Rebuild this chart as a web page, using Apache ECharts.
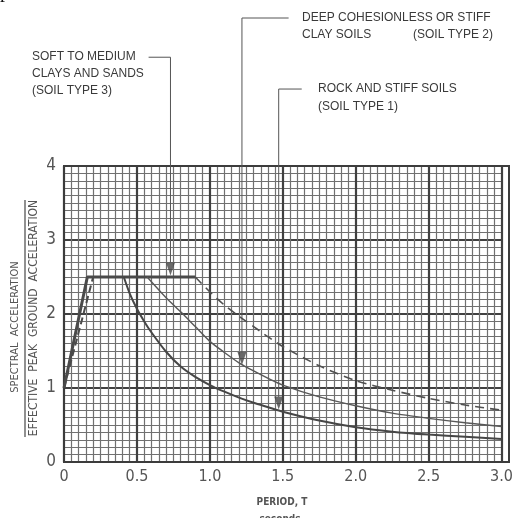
<!DOCTYPE html>
<html>
<head>
<meta charset="utf-8">
<script src="https://cdn.jsdelivr.net/npm/echarts@6/dist/echarts.min.js"></script>
<style>
  html, body { margin: 0; padding: 0; background: #fff; }
  #chart { width: 516px; height: 518px; }
</style>
</head>
<body>
<div id="chart"></div>
<script>
// Normalised response spectra: Sa / effective peak ground acceleration vs period T (s)

// rising branch and common 2.5 plateau
const rampPeriod = [0, 0.16, 0.9];
const rampRatio = [1.0, 2.5, 2.5];
const rampSoftPeriod = [0, 0.2];
const rampSoftRatio = [1.0, 2.5];

// Soil type 1 - rock and stiff soils
const rockPeriod = [0.41, 0.45, 0.5, 0.55, 0.6, 0.7, 0.8, 0.9, 1.0, 1.1, 1.2, 1.3, 1.4, 1.5, 1.75, 2.0, 2.25, 2.5, 2.75, 3.0];
const rockRatio  = [2.5, 2.28, 2.07, 1.9, 1.75, 1.49, 1.29, 1.15, 1.04, 0.95, 0.87, 0.80, 0.74, 0.68, 0.56, 0.47, 0.41, 0.37, 0.34, 0.31];

// Soil type 2 - deep cohesionless or stiff clay soils
const stiffPeriod = [0.57, 0.7, 0.8, 0.9, 1.0, 1.1, 1.2, 1.3, 1.4, 1.5, 1.75, 2.0, 2.25, 2.5, 2.75, 3.0];
const stiffRatio  = [2.5, 2.22, 2.03, 1.83, 1.63, 1.48, 1.34, 1.23, 1.13, 1.04, 0.88, 0.76, 0.66, 0.59, 0.53, 0.48];

// Soil type 3 - soft to medium clays and sands
const softPeriod = [0.9, 1.0, 1.1, 1.2, 1.3, 1.4, 1.5, 1.75, 2.0, 2.25, 2.5, 2.75, 3.0];
const softRatio  = [2.5, 2.3, 2.12, 1.97, 1.83, 1.69, 1.56, 1.30, 1.10, 0.97, 0.86, 0.77, 0.70];

// arrow tips of the soil-type callouts [period, ratio]
const calloutTips = [[0.73, 2.52], [1.22, 1.31], [1.472, 0.71]];

// tick labels
const xTickLabels = ['0', '0.5', '1.0', '1.5', '2.0', '2.5', '3.0'];
const yTickLabels = ['0', '1', '2', '3', '4'];

const zip = (a, b) => a.map((v, i) => [v, b[i]]);

// leader elbows for the callouts (above the plot, in axis units)
const leaders = [
  [[0.58, 5.47], [0.73, 5.47], [0.73, 2.70]],
  [[1.54, 6.0], [1.22, 6.0], [1.22, 1.48]],
  [[1.63, 5.04], [1.472, 5.04], [1.472, 0.88]]
];

const chart = echarts.init(document.getElementById('chart'), null, { renderer: 'canvas' });

const leaderSeries = leaders.map(pts => ({
  type: 'line', data: pts, clip: false, symbol: 'none', silent: true,
  lineStyle: { color: '#555', width: 1 }, z: 4
}));

const curveLine = (name, period, ratio, style) => ({
  name, type: 'line', data: zip(period, ratio), symbol: 'none',
  smooth: 0.25, lineStyle: style, z: 5
});

chart.setOption({
  animation: false,
  backgroundColor: '#fff',
  grid: { left: 64, top: 166, width: 445, height: 296, show: false },
  xAxis: {
    type: 'value', min: 0, max: 3, interval: 0.5,
    axisLine: { show: false }, axisTick: { show: false },
    axisLabel: {
      margin: 7, color: '#555', fontSize: 16, fontFamily: 'DejaVu Sans Condensed, DejaVu Sans',
      formatter: v => xTickLabels[Math.round(v / 0.5)], showMaxLabel: true
    },
    splitLine: { show: true, lineStyle: { color: '#404040', width: 2.2 } },
    minorTick: { show: false, splitNumber: 10 },
    minorSplitLine: { show: true, lineStyle: { color: '#707070', width: 1.2 } }
  },
  yAxis: {
    type: 'value', min: 0, max: 4, interval: 1,
    axisLine: { show: false }, axisTick: { show: false },
    axisLabel: {
      margin: 8, color: '#555', fontSize: 17, fontFamily: 'DejaVu Sans Condensed, DejaVu Sans',
      formatter: v => yTickLabels[Math.round(v)]
    },
    splitLine: { show: true, lineStyle: { color: '#404040', width: 2.2 } },
    minorTick: { show: false, splitNumber: 10 },
    minorSplitLine: { show: true, lineStyle: { color: '#707070', width: 1.2 } }
  },
  series: [
    {
      name: 'ramp', type: 'line', data: zip(rampPeriod, rampRatio), symbol: 'none',
      lineStyle: { color: '#4a4a4a', width: 3 }, z: 5
    },
    {
      name: 'rampSoft', type: 'line', data: zip(rampSoftPeriod, rampSoftRatio), symbol: 'none',
      lineStyle: { color: '#4a4a4a', width: 2, type: [7, 4] }, z: 5
    },
    curveLine('Soil type 1', rockPeriod, rockRatio, { color: '#464646', width: 2 }),
    curveLine('Soil type 2', stiffPeriod, stiffRatio, { color: '#585858', width: 1.4 }),
    curveLine('Soil type 3', softPeriod, softRatio, { color: '#505050', width: 1.6, type: [9, 6] }),
    ...leaderSeries,
    {
      type: 'scatter', data: calloutTips, clip: false, silent: true,
      symbol: 'path://M0,0 L10,0 L5,14 Z', symbolSize: [9, 13], symbolOffset: [0, -6.5],
      itemStyle: { color: '#444' }, z: 6
    }
  ],
  graphic: [
    // outer frame of the plot
    { type: 'rect', shape: { x: 64, y: 166, width: 445, height: 296 }, style: { fill: null, stroke: '#3c3c3c', lineWidth: 2 }, z: 3, silent: true },
    // y axis title as a fraction
    { type: 'text', x: 15, y: 327, rotation: Math.PI / 2,
      style: { text: 'SPECTRAL  ACCELERATION', fill: '#555', font: '11px "DejaVu Sans Condensed", "DejaVu Sans"', align: 'center', verticalAlign: 'middle' } },
    { type: 'line', shape: { x1: 25, y1: 200, x2: 25, y2: 437 }, style: { stroke: '#555', lineWidth: 1.3 } },
    { type: 'text', x: 34, y: 318, rotation: Math.PI / 2,
      style: { text: 'EFFECTIVE  PEAK  GROUND  ACCELERATION', fill: '#555', font: '12px "DejaVu Sans Condensed", "DejaVu Sans"', align: 'center', verticalAlign: 'middle' } },
    // x axis title
    { type: 'text', x: 282, y: 502,
      style: { text: 'PERIOD, T', fill: '#555', font: 'bold 10px "DejaVu Sans Condensed", "DejaVu Sans"', align: 'center', verticalAlign: 'middle' } },
    { type: 'text', x: 280, y: 519,
      style: { text: 'seconds', fill: '#555', font: 'bold 10px "DejaVu Sans Condensed", "DejaVu Sans"', align: 'center', verticalAlign: 'middle' } },
    // callout texts
    { type: 'text', x: 32, y: 57, style: { text: 'SOFT TO MEDIUM', fill: '#3a3a3a', font: '12px "Liberation Sans", Arial', verticalAlign: 'middle' } },
    { type: 'text', x: 32, y: 74, style: { text: 'CLAYS AND SANDS', fill: '#3a3a3a', font: '12px "Liberation Sans", Arial', verticalAlign: 'middle' } },
    { type: 'text', x: 32, y: 91, style: { text: '(SOIL TYPE 3)', fill: '#3a3a3a', font: '12px "Liberation Sans", Arial', verticalAlign: 'middle' } },
    { type: 'text', x: 302, y: 18, style: { text: 'DEEP COHESIONLESS OR STIFF', fill: '#3a3a3a', font: '12px "Liberation Sans", Arial', verticalAlign: 'middle' } },
    { type: 'text', x: 302, y: 35, style: { text: 'CLAY SOILS', fill: '#3a3a3a', font: '12px "Liberation Sans", Arial', verticalAlign: 'middle' } },
    { type: 'text', x: 413, y: 35, style: { text: '(SOIL TYPE 2)', fill: '#3a3a3a', font: '12px "Liberation Sans", Arial', verticalAlign: 'middle' } },
    { type: 'text', x: 318, y: 89, style: { text: 'ROCK AND STIFF SOILS', fill: '#3a3a3a', font: '12px "Liberation Sans", Arial', verticalAlign: 'middle' } },
    { type: 'text', x: 318, y: 107, style: { text: '(SOIL TYPE 1)', fill: '#3a3a3a', font: '12px "Liberation Sans", Arial', verticalAlign: 'middle' } },
    // fragment of running text at the page edge
    { type: 'text', x: 0, y: -18, style: { text: 'p', fill: '#111', font: '20px "Liberation Serif", serif' } }
  ]
});
</script>
</body>
</html>
